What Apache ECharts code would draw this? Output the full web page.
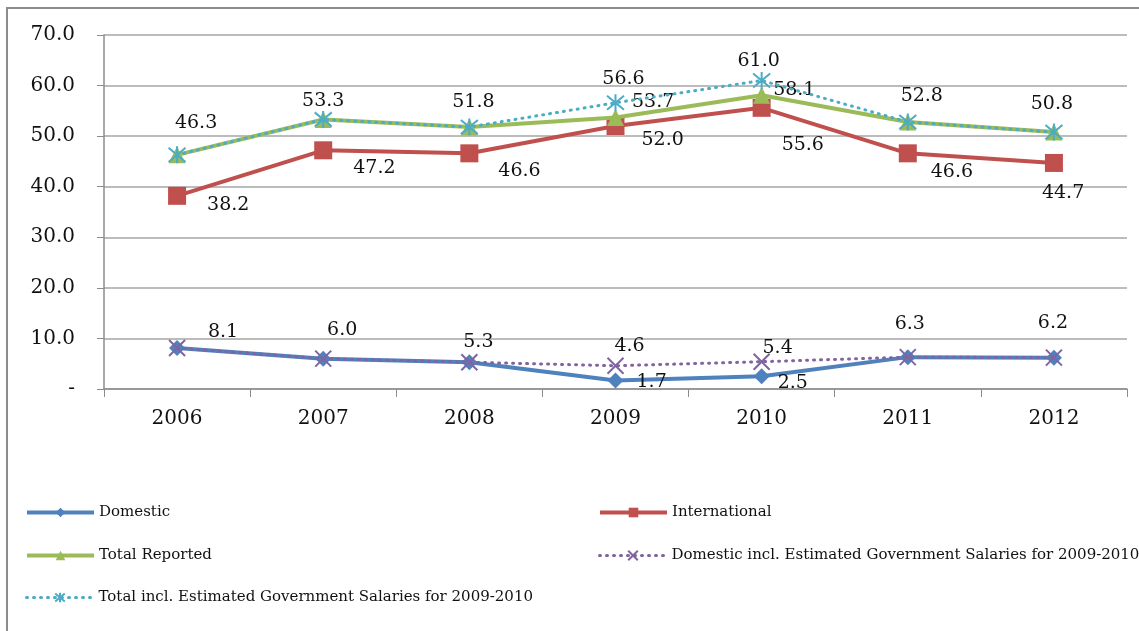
<!DOCTYPE html>
<html>
<head>
<meta charset="utf-8">
<script src="https://cdn.jsdelivr.net/npm/echarts@6/dist/echarts.min.js"></script>
<style>
  html, body { margin: 0; padding: 0; background: #fff; overflow: hidden; width: 1139px; height: 631px; }
  #frame { position: absolute; left: 6px; top: 7px; width: 1300px; height: 800px; border-left: 2px solid #8c8c8c; border-top: 2px solid #8c8c8c; }
  #chart { position: absolute; left: 0; top: 0; width: 1139px; height: 631px; }
</style>
</head>
<body>
<div id="frame"></div>
<div id="chart"></div>
<script>
// --- data ---
var years = ['2006', '2007', '2008', '2009', '2010', '2011', '2012'];
var domestic = [8.1, 6.0, 5.3, 1.7, 2.5, 6.3, 6.2];
var international = [38.2, 47.2, 46.6, 52.0, 55.6, 46.6, 44.7];
var totalReported = [46.3, 53.3, 51.8, 53.7, 58.1, 52.8, 50.8];
var domesticIncl = [8.1, 6.0, 5.3, 4.6, 5.4, 6.3, 6.2];
var totalIncl = [46.3, 53.3, 51.8, 56.6, 61.0, 52.8, 50.8];

var seriesNames = [
  'Domestic',
  'International',
  'Total Reported',
  'Domestic incl. Estimated Government Salaries for 2009-2010',
  'Total incl. Estimated Government Salaries for 2009-2010'
];

var font = 'DejaVu Serif';
var labelFont = { fontFamily: font, fontSize: 19, color: '#111' };

// label tweaks, per point
function withLabels(values, position, offsets, onlyIdx) {
  return values.map(function (v, i) {
    var show = !onlyIdx || onlyIdx.indexOf(i) >= 0;
    var off = offsets ? offsets[i] : [0, 0];
    return {
      value: v,
      label: Object.assign({
        show: show,
        position: position,
        offset: off || [0, 0],
        formatter: function (p) { return p.value.toFixed(1); }
      }, labelFont)
    };
  });
}

var xSym = 'path://M0,0L10,10M10,0L0,10';
var starSym = 'path://M0,0L10,10M10,0L0,10M5,-1L5,11';

var chart = echarts.init(document.getElementById('chart'), null, { renderer: 'canvas' });

function legendAt(name, left, top, lineW) {
  return {
    data: [name],
    left: left,
    top: top,
    itemWidth: 67,
    itemHeight: 12,
    itemGap: 0,
    padding: 0,
    lineStyle: { width: lineW },
    textStyle: { fontFamily: font, fontSize: 15, color: '#111' },
    selectedMode: false
  };
}

var option = {
  animation: false,
  grid: { left: 104, right: 12, top: 35, bottom: 242 },
  legend: [
    legendAt(seriesNames[0], 25, 505, 4),
    legendAt(seriesNames[1], 598, 505, 4),
    legendAt(seriesNames[2], 25, 548, 4),
    legendAt(seriesNames[3], 598, 548, 3),
    legendAt(seriesNames[4], 25, 590, 3)
  ],
  xAxis: {
    type: 'category',
    data: years,
    boundaryGap: true,
    axisLine: { lineStyle: { color: '#8c8c8c', width: 1.5 } },
    axisTick: { show: true, length: 8, lineStyle: { color: '#8c8c8c' } },
    axisLabel: { fontFamily: font, fontSize: 20, color: '#111', margin: 20 }
  },
  yAxis: {
    type: 'value',
    min: 0,
    max: 70,
    interval: 10,
    axisLine: { show: true, lineStyle: { color: '#8c8c8c', width: 1.5 } },
    axisTick: { show: true, length: 7, lineStyle: { color: '#8c8c8c' } },
    splitLine: { lineStyle: { color: '#a6a6a6', width: 1.5 } },
    axisLabel: {
      fontFamily: font, fontSize: 20, color: '#111', margin: 29,
      formatter: function (v) { return v === 0 ? '-' : v.toFixed(1); }
    }
  },
  series: [
    {
      name: seriesNames[0], type: 'line', z: 2,
      data: withLabels(domestic, 'right', [null, null, null, [8, 2], [3, 7], null, null], [3, 4]),
      symbol: 'diamond', symbolSize: 16,
      lineStyle: { color: '#4F81BD', width: 4 },
      itemStyle: { color: '#4F81BD' }
    },
    {
      name: seriesNames[1], type: 'line', z: 2,
      data: withLabels(international, 'right',
        [[16, 9], [16, 18], [15, 18], [12, 14], [6, 37], [9, 19], [-26, 30]]),
      symbol: 'rect', symbolSize: 18,
      lineStyle: { color: '#C0504D', width: 4 },
      itemStyle: { color: '#C0504D' }
    },
    {
      name: seriesNames[2], type: 'line', z: 3,
      data: withLabels(totalReported, 'right', [null, null, null, [3, -15], [-2, -5], null, null], [3, 4]),
      symbol: 'triangle', symbolSize: 17,
      lineStyle: { color: '#9BBB59', width: 4 },
      itemStyle: { color: '#9BBB59' }
    },
    {
      name: seriesNames[3], type: 'line', z: 4,
      data: withLabels(domesticIncl, 'top',
        [[46, 8], [19, -5], [9, 3], [14, 4], [16, 10], [2, -10], [-1, -11]]),
      symbol: xSym, symbolSize: 16,
      lineStyle: { color: '#8064A2', width: 3, type: [1, 6], cap: 'round' },
      itemStyle: { color: '#8064A2', borderColor: '#8064A2', borderWidth: 2 }
    },
    {
      name: seriesNames[4], type: 'line', z: 5,
      data: withLabels(totalIncl, 'top',
        [[19, -8], [0, 6], [4, -1], [8, 0], [-3, 5], [14, -2], [-2, -4]]),
      symbol: starSym, symbolSize: 17,
      lineStyle: { color: '#4BACC6', width: 3, type: [1, 6], cap: 'round' },
      itemStyle: { color: '#4BACC6', borderColor: '#4BACC6', borderWidth: 2 }
    }
  ]
};

chart.setOption(option);
</script>
</body>
</html>
